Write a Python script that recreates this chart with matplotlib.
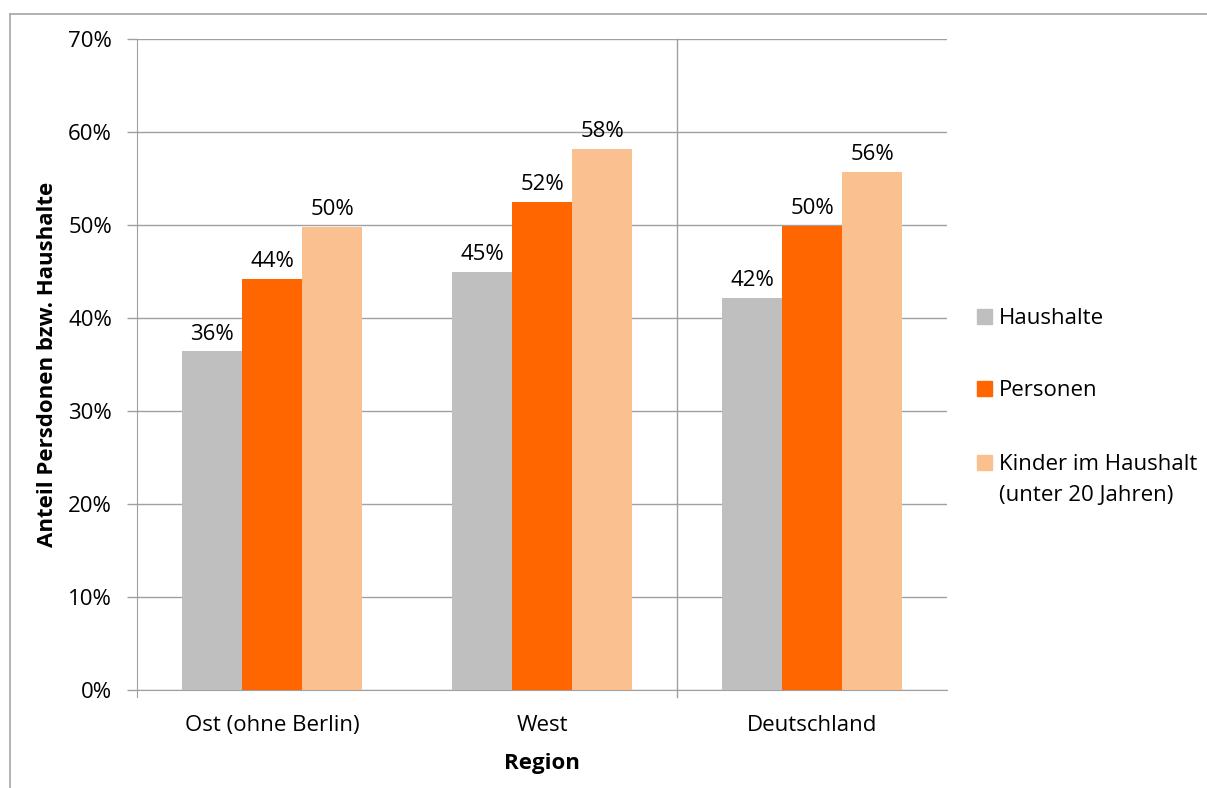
import matplotlib
matplotlib.use("Agg")
import matplotlib.pyplot as plt
from matplotlib.patches import Rectangle
from matplotlib.lines import Line2D
import numpy as np

categories = ["Ost (ohne Berlin)", "West", "Deutschland"]
series_names = ["Haushalte", "Personen", "Kinder im Haushalt\n(unter 20 Jahren)"]
haushalte = [36.4, 45.0, 42.2]
personen = [44.2, 52.5, 49.9]
kinder = [49.8, 58.2, 55.7]
yticks = [0, 10, 20, 30, 40, 50, 60, 70]
colors = ["#BFBFBF", "#FF6600", "#FAC090"]

plt.rcParams['font.family'] = ['Open Sans', 'DejaVu Sans']
FS = 16
W, H = 1207, 788
fig = plt.figure(figsize=(W / 100, H / 100), dpi=100)
ax = fig.add_axes([137 / W, 1 - 690 / H, (947 - 137) / W, (690 - 39) / H])

x = np.arange(len(categories))
bw = 60 / 270
grid_c = "#A0A0A0"
for i, (vals, c) in enumerate(zip([haushalte, personen, kinder], colors)):
    pos = x + (i - 1) * bw
    ax.bar(pos, vals, width=bw, color=c, zorder=3)
    for p, v in zip(pos, vals):
        ax.annotate(f"{round(v):.0f}%", (p, v), xytext=(0, 5), textcoords="offset points",
                    ha="center", va="bottom", fontsize=FS, color="#000000", zorder=4)

ax.set_xlim(-0.5, 2.5)
ax.set_ylim(0, 70)
ax.set_yticks(yticks)
ax.set_yticklabels([f"{t}%" for t in yticks], fontsize=FS)
ax.set_xticks(x)
ax.set_xticklabels(categories, fontsize=FS)
ax.tick_params(axis="x", length=0, pad=18)
ax.tick_params(axis="y", length=7, color=grid_c, width=1, pad=11)
ax.yaxis.grid(True, color=grid_c, linewidth=1, zorder=0)
for s in ["top", "right"]:
    ax.spines[s].set_visible(False)
ax.spines["left"].set_color(grid_c)
ax.spines["bottom"].set_color(grid_c)
ax.spines["left"].set_bounds(-0.8, 70)
# vertical separator line between West and Deutschland
ax.plot([1.5, 1.5], [-0.8, 70], color=grid_c, linewidth=1, zorder=2, clip_on=False)

ax.set_ylabel("Anteil Persdonen bzw. Haushalte", fontsize=16, fontweight="bold")
ax.yaxis.set_label_coords(-0.098, 0.5)
ax.set_xlabel("Region", fontsize=FS, fontweight="bold")
ax.xaxis.set_label_coords(0.5, -0.097)

# legend drawn manually
leg_y = [316, 388, 462]
for name, c, yy in zip(series_names, colors, leg_y):
    fig.patches.append(Rectangle((977 / W, 1 - (yy + 7.5) / H), 15 / W, 15 / H,
                                 transform=fig.transFigure, color=c, figure=fig))
    fig.text(999 / W, 1 - (yy - 8) / H, name, fontsize=FS, va="top", ha="left",
             linespacing=1.6)

# outer frame (top and left visible)
fig.add_artist(Line2D([10 / W, 1], [1 - 14 / H, 1 - 14 / H], transform=fig.transFigure,
                      color="#A6A6A6", linewidth=1.2))
fig.add_artist(Line2D([10 / W, 10 / W], [0, 1 - 14 / H], transform=fig.transFigure,
                      color="#A6A6A6", linewidth=1.2))

fig.savefig("out.png", dpi=100)
